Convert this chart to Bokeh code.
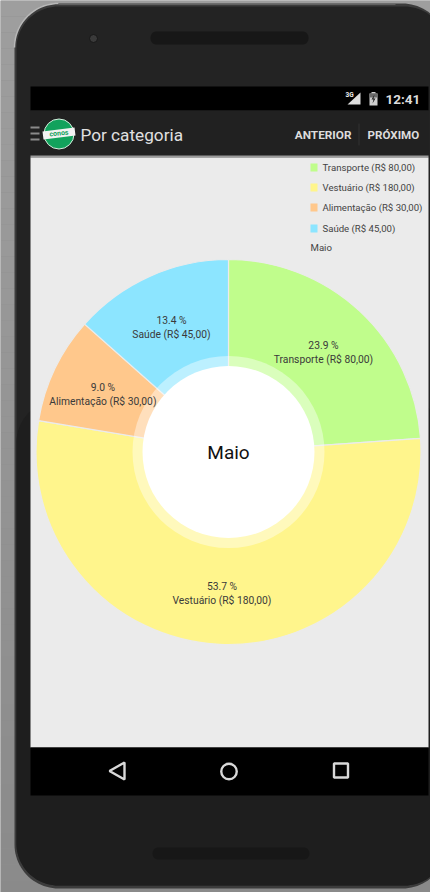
from bokeh.core.properties import value
from bokeh.embed import file_html
from bokeh.models import Range1d
from bokeh.plotting import figure
from bokeh.resources import INLINE
import numpy as np

# Expenses for the month, by category
categories = ["Transporte", "Vestuário", "Alimentação", "Saúde"]
amounts = [80, 180, 30, 45]
amount_labels = ["R$ 80,00", "R$ 180,00", "R$ 30,00", "R$ 45,00"]
percent_labels = ["23.9 %", "53.7 %", "9.0 %", "13.4 %"]
colors = ["#c0fd8c", "#fff58c", "#ffc88c", "#8ce5ff"]
month = "Maio"

W, H = 430, 892
FONT = value("Roboto")
p = figure(width=W, height=H, output_backend="svg", toolbar_location=None,
           x_range=Range1d(0, W), y_range=Range1d(H, 0), min_border=0,
           background_fill_color="#8c8c8c", border_fill_color="#8c8c8c")
p.axis.visible = False
p.grid.visible = False
p.outline_line_color = None


def box(x0, y0, x1, y1, color, **kw):
    p.quad(left=x0, right=x1, top=y0, bottom=y1, fill_color=color, line_color=None, **kw)


def rounded_body(x0, y0, x1, y1, r, color, **kw):
    t = np.linspace(0, np.pi / 2, 24)
    xs = np.concatenate([x0 + r - r * np.cos(t), x1 - r + r * np.sin(t),
                         x1 - r + r * np.cos(t), x0 + r - r * np.sin(t)])
    ys = np.concatenate([y0 + r - r * np.sin(t), y0 + r - r * np.cos(t),
                         y1 - r + r * np.sin(t), y1 - r + r * np.cos(t)])
    p.patch(xs, ys, fill_color=color, line_color=None, **kw)


# Backdrop fades slightly from top to bottom
for top in range(0, H, 16):
    shade = int(round(0x9e - (0x9e - 0x8a) * top / H))
    box(0, top, W, top + 16, f"#{shade:02x}{shade:02x}{shade:02x}")

# Phone body with a lit upper edge; the lower half is a touch darker
rounded_body(14, 3, 446, 888, 44, "#3c3c3c")
rounded_body(16, 6, 446, 885, 42, "#232323")
rounded_body(16, 400, 446, 885, 42, "#1e1e1e")
rounded_body(150, 31, 308, 44, 6, "#171717")
rounded_body(152, 847, 309, 859, 6, "#171717")
p.scatter([93], [38], size=8, fill_color="#3a3a3a", line_color="#171717")
arc = np.linspace(0, np.pi / 2, 24)
p.line(58 - 44 * np.cos(arc), 47 - 44 * np.sin(arc), line_color="#b8b8b8", line_width=1.5)
p.line([58, 395], [3.5, 3.5], line_color="#6e6e6e", line_width=1.5)

# Screen
box(30, 86, 428, 110, "#000000")
box(30, 110, 428, 155, "#212121")
box(30, 155, 428, 157, "#9a9a9a")
box(30, 157, 428, 747, "#ebebeb")
box(30, 747, 428, 795, "#000000")

# Status bar
p.text([385], [98], text=["12:41"], text_font=FONT, text_font_size="13.5px", text_font_style="bold",
       text_color="#dcdcdc", text_align="left", text_baseline="middle")
p.patch([347, 360, 360], [104, 104, 92], fill_color="#dddddd", line_color=None)
p.text([345], [94.5], text=["3G"], text_font=FONT, text_font_size="6.5px", text_color="#eeeeee",
       text_align="left", text_baseline="middle", text_font_style="bold")
box(369, 93, 377, 105, "#cfcfcf")
box(371, 91.5, 375, 93, "#cfcfcf")
box(369, 93, 377, 97, "#6a6a6a")
p.patch([374, 371, 373, 372, 375, 373], [94, 99, 99, 103, 98, 98], fill_color="#222222", line_color=None)

# Toolbar
for y in (127, 133, 139):
    box(30, y - 1, 39, y + 1, "#8a8a8a")
p.scatter([58.5], [133.5], size=30, fill_color="#12a25c", line_color="#d8efe0", line_width=1)
p.patch([42, 74, 75, 43], [131, 127, 135, 139], fill_color="#f2f2f2", line_color=None)
p.text([58.5], [133], text=["conos"], text_font=FONT, text_font_size="7px", text_color="#12a25c",
       text_align="center", text_baseline="middle", text_font_style="bold", angle=0.1)
p.text([80], [134], text=["Por categoria"], text_font=FONT, text_font_size="17.2px",
       text_color="#e0e0e0", text_align="left", text_baseline="middle")
p.text([351], [134], text=["ANTERIOR"], text_font=FONT, text_font_size="11.8px", text_font_style="bold",
       text_color="#dcdcdc", text_align="right", text_baseline="middle")
p.text([367], [134], text=["PRÓXIMO"], text_font=FONT, text_font_size="11.6px", text_font_style="bold",
       text_color="#dcdcdc", text_align="left", text_baseline="middle")
box(358, 123, 359, 145, "#333333")

# Navigation bar
p.patch([124, 109, 124, 124], [762, 770.5, 779, 762], fill_color=None, line_color="#d8d8d8", line_width=2.4)
p.scatter([228.5], [771], size=15.5, fill_color=None, line_color="#d8d8d8", line_width=2.4)
p.scatter([340.5], [770], size=14, marker="square", fill_color=None, line_color="#d8d8d8", line_width=2.4)

# Donut: slices run clockwise from twelve o'clock
cx, cy, outer, hole, halo = 228, 451.5, 192.5, 86, 96
fractions = np.array(amounts) / sum(amounts)
edges = np.concatenate([[0], np.cumsum(fractions)]) * 2 * np.pi
starts = np.pi / 2 - edges[:-1]
ends = np.pi / 2 - edges[1:]
p.annular_wedge(x=cx, y=cy, inner_radius=0, outer_radius=outer, start_angle=ends, end_angle=starts,
                fill_color=colors, line_color="#ebebeb", line_width=1.2, direction="anticlock")
p.scatter([cx], [cy], size=2 * halo, fill_color="#ffffff", fill_alpha=0.42, line_color=None)
p.scatter([cx], [cy], size=2 * hole, fill_color="#ffffff", line_color=None)
p.text([cx], [cy + 0.5], text=[month], text_font=FONT, text_font_size="19px", text_color="#111111",
       text_align="center", text_baseline="middle")

# Slice labels sit midway along each ring segment
mids = (edges[:-1] + edges[1:]) / 2
label_radius = (outer + hole) / 2
lx = cx + label_radius * np.sin(mids)
ly = cy - label_radius * np.cos(mids) + 2.5
for x, y, name, amount, pct in zip(lx, ly, categories, amount_labels, percent_labels):
    p.text([x], [y - 7], text=[pct], text_font=FONT, text_font_size="10.3px", text_color="#3a3a3a",
           text_align="center", text_baseline="middle")
    p.text([x], [y + 7], text=[f"{name} ({amount})"], text_font=FONT, text_font_size="10.3px",
           text_color="#3a3a3a", text_align="center", text_baseline="middle")

# Legend
rows = [167, 187, 207, 228]
for y, name, amount, color in zip(rows, categories, amount_labels, colors):
    box(310, y - 4, 317, y + 4, color)
    p.text([322], [y], text=[f"{name} ({amount})"], text_font=FONT, text_font_size="9.6px",
           text_color="#444444", text_align="left", text_baseline="middle")
p.text([310], [247], text=[month], text_font=FONT, text_font_size="9.6px", text_color="#444444",
       text_align="left", text_baseline="middle")

open("out.html", "w").write(file_html(p, INLINE))
